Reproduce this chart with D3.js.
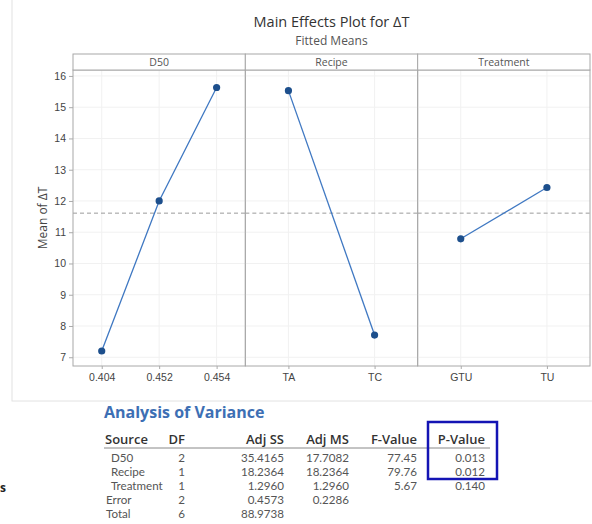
<!DOCTYPE html>
<meta charset="utf-8">
<head>
<style>
body { margin: 0; background: #fff; }
svg { font-family: "Open Sans", "Noto Sans", sans-serif; }
.axis path { display: none; }
.axis line { stroke: #aaa; }
.axis text { fill: #444; font-size: 10.5px; }
.tbl text { font-family: Lato, "Open Sans", sans-serif; font-size: 11.6px; fill: #555; }
.tbl .hd { font-family: "Open Sans", sans-serif; font-weight: 600; fill: #333; }
</style>
</head>
<body>
<script src="https://d3js.org/d3.v7.min.js"></script>
<script>

// factors (panels) and their fitted means
var factors = ["D50", "Recipe", "Treatment"];
var d50Levels = ["0.404", "0.452", "0.454"];
var d50Means = [7.2, 12.0, 15.63];
var recipeLevels = ["TA", "TC"];
var recipeMeans = [15.53, 7.71];
var treatLevels = ["GTU", "TU"];
var treatMeans = [10.79, 12.43];
var grandMean = 11.61;
var yTicks = [7, 8, 9, 10, 11, 12, 13, 14, 15, 16];

// analysis of variance table
var anovaHeader = ["Source", "DF", "Adj SS", "Adj MS", "F-Value", "P-Value"];
var anovaSource = ["D50", "Recipe", "Treatment", "Error", "Total"];
var anovaDF = ["2", "1", "1", "2", "6"];
var anovaAdjSS = ["35.4165", "18.2364", "1.2960", "0.4573", "88.9738"];
var anovaAdjMS = ["17.7082", "18.2364", "1.2960", "0.2286", ""];
var anovaF = ["77.45", "79.76", "5.67", "", ""];
var anovaP = ["0.013", "0.012", "0.140", "", ""];

var levels = [d50Levels, recipeLevels, treatLevels];
var means = [d50Means, recipeMeans, treatMeans];

var W = 592, H = 524;
var plot = {left: 73, right: 590, top: 70, bottom: 366, strip: 16};

var svg = d3.select("body").append("svg")
    .attr("width", W)
    .attr("height", H);

// light outer frame of the graph window
svg.append("rect")
    .attr("x", 12).attr("y", -2)
    .attr("width", W).attr("height", 403)
    .attr("fill", "none").attr("stroke", "#e2e2e2");

// title
svg.append("text")
    .attr("x", (plot.left + plot.right) / 2).attr("y", 27)
    .attr("text-anchor", "middle")
    .style("font-size", "14.5px").style("fill", "#333")
    .text("Main Effects Plot for \u0394T");
svg.append("text")
    .attr("x", (plot.left + plot.right) / 2).attr("y", 45)
    .attr("text-anchor", "middle")
    .style("font-size", "12px").style("fill", "#555")
    .text("Fitted Means");

var panel = d3.scaleBand()
    .domain(factors)
    .range([plot.left, plot.right]);

var y = d3.scaleLinear()
    .domain([6.72, 16.19])
    .range([plot.bottom, plot.top]);

factors.forEach(function(f, i) {
  var x0 = panel(f), w = panel.bandwidth();
  var x = d3.scalePoint()
      .domain(levels[i])
      .range([x0, x0 + w])
      .padding(0.5);

  var g = svg.append("g");

  // faint grid
  g.selectAll(".gy").data(yTicks).enter().append("line")
      .attr("x1", x0).attr("x2", x0 + w)
      .attr("y1", function(d) { return y(d); })
      .attr("y2", function(d) { return y(d); })
      .attr("stroke", "#f1f1f1");
  g.selectAll(".gx").data(levels[i]).enter().append("line")
      .attr("x1", function(d) { return x(d); })
      .attr("x2", function(d) { return x(d); })
      .attr("y1", plot.top).attr("y2", plot.bottom)
      .attr("stroke", "#f1f1f1");

  // reference line at the grand mean
  g.append("line")
      .attr("x1", x0).attr("x2", x0 + w)
      .attr("y1", y(grandMean)).attr("y2", y(grandMean))
      .attr("stroke", "#9a9a9a")
      .attr("stroke-dasharray", "4,3");

  // panel frame and strip
  g.append("rect")
      .attr("x", x0).attr("y", plot.top)
      .attr("width", w).attr("height", plot.bottom - plot.top)
      .attr("fill", "none").attr("stroke", "#a8a8a8");
  g.append("rect")
      .attr("x", x0).attr("y", plot.top - plot.strip)
      .attr("width", w).attr("height", plot.strip)
      .attr("fill", "#fff").attr("stroke", "#a8a8a8");
  g.append("text")
      .attr("x", x0 + w / 2).attr("y", plot.top - 4)
      .attr("text-anchor", "middle")
      .style("font-size", "10.5px").style("fill", "#555")
      .text(f);

  // x axis
  g.append("g")
      .attr("class", "axis")
      .attr("transform", "translate(0," + plot.bottom + ")")
      .call(d3.axisBottom(x).tickSize(3).tickPadding(5));

  // line + points
  var pts = levels[i].map(function(l, j) { return {l: l, v: means[i][j]}; });
  g.append("path")
      .datum(pts)
      .attr("fill", "none")
      .attr("stroke", "#3f78c2")
      .attr("stroke-width", 1.3)
      .attr("d", d3.line()
          .x(function(d) { return x(d.l); })
          .y(function(d) { return y(d.v); }));
  g.selectAll("circle").data(pts).enter().append("circle")
      .attr("cx", function(d) { return x(d.l); })
      .attr("cy", function(d) { return y(d.v); })
      .attr("r", 3.6)
      .attr("fill", "#1d4f8c");
});

// y axis
svg.append("g")
    .attr("class", "axis")
    .attr("transform", "translate(" + plot.left + ",0)")
    .call(d3.axisLeft(y).tickValues(yTicks).tickSize(4).tickPadding(3));

svg.append("text")
    .attr("transform", "rotate(-90)")
    .attr("x", -(plot.top + plot.bottom) / 2)
    .attr("y", 47)
    .attr("text-anchor", "middle")
    .style("font-size", "12px").style("fill", "#444")
    .text("Mean of \u0394T");

// ANOVA table
var t = svg.append("g").attr("class", "tbl");
t.append("text")
    .attr("x", 104).attr("y", 418)
    .style("font-family", "'Open Sans', sans-serif")
    .style("font-size", "16px").style("font-weight", "700")
    .style("fill", "#3d6fb4")
    .text("Analysis of Variance");

var colRight = [null, 185, 284, 349, 417, 485];
var headY = 444, rowY0 = 461.5, rowH = 14;

anovaHeader.forEach(function(h, c) {
  t.append("text")
      .attr("class", "hd")
      .attr("x", c === 0 ? 105 : colRight[c])
      .attr("y", headY)
      .attr("text-anchor", c === 0 ? "start" : "end")
      .style("font-size", "13px")
      .text(h);
});
t.append("line")
    .attr("x1", 104).attr("x2", 490)
    .attr("y1", headY + 4).attr("y2", headY + 4)
    .attr("stroke", "#888");

var cols = [anovaDF, anovaAdjSS, anovaAdjMS, anovaF, anovaP];
anovaSource.forEach(function(s, r) {
  var ry = rowY0 + r * rowH;
  t.append("text")
      .attr("x", r < 3 ? 111 : 106)
      .attr("y", ry)
      .text(s);
  cols.forEach(function(col, c) {
    t.append("text")
        .attr("x", colRight[c + 1])
        .attr("y", ry)
        .attr("text-anchor", "end")
        .text(col[r]);
  });
});

// highlight box around significant p-values
svg.append("rect")
    .attr("x", 428).attr("y", 422)
    .attr("width", 69).attr("height", 57)
    .attr("fill", "none")
    .attr("stroke", "#1414b4")
    .attr("stroke-width", 2.5);

// glyph at the left edge
svg.append("text")
    .attr("x", 0).attr("y", 492)
    .style("font-size", "12px").style("font-weight", "700")
    .style("fill", "#222")
    .text("s");

</script>
</body>
